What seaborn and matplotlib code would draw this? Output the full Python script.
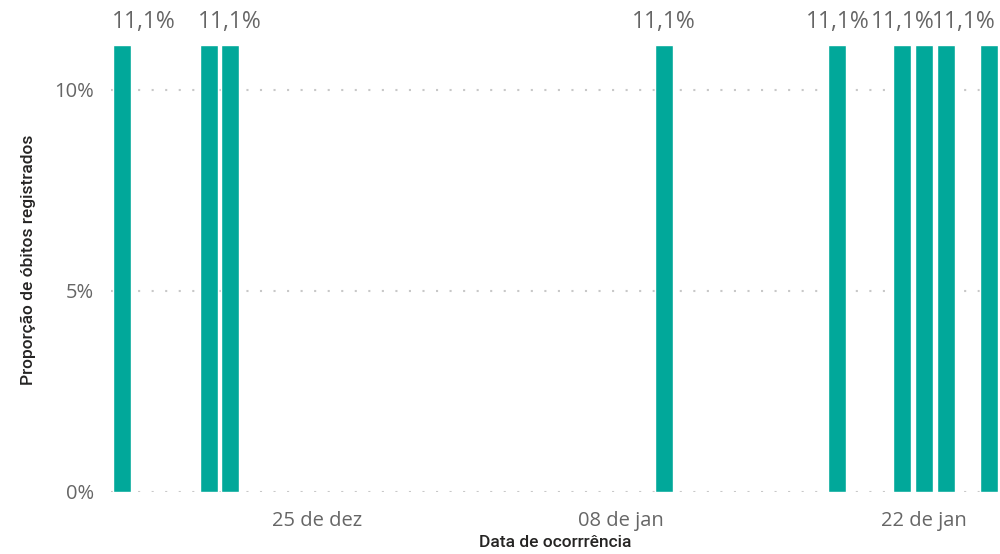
import pandas as pd
import seaborn as sns
import matplotlib.pyplot as plt
import matplotlib.dates as mdates

datas = ["2020-12-16", "2020-12-20", "2020-12-21", "2021-01-10", "2021-01-18",
         "2021-01-21", "2021-01-22", "2021-01-23", "2021-01-25"]
proporcao = [0.111, 0.111, 0.111, 0.111, 0.111, 0.111, 0.111, 0.111, 0.111]
# Power BI hides overlapping labels, only these get one
rotulos = ["11,1%", None, "11,1%", "11,1%", "11,1%", "11,1%", None, None, "11,1%"]

tick_datas = ["2020-12-25", "2021-01-08", "2021-01-22"]
tick_labels = ["25 de dez", "08 de jan", "22 de jan"]

df = pd.DataFrame({"data": pd.to_datetime(datas), "prop": proporcao})
df["x"] = mdates.date2num(df["data"])

sns.set_theme(style="white")
plt.rcParams["font.family"] = ["Open Sans", "DejaVu Sans"]

fig = plt.figure(figsize=(10, 5.54), dpi=100)
ax = fig.add_axes([0.111, 0.112, 0.889, 0.807])

sns.barplot(data=df, x="x", y="prop", native_scale=True, width=0.83,
            color="#01A89A", saturation=1, ax=ax, zorder=3)

x0 = df["x"].min() - 0.5
x1 = df["x"].max() + 0.5
ax.set_xlim(x0, x1)
ax.set_ylim(0, 0.1111)

ax.set_yticks([0, 0.05, 0.10])
ax.set_yticklabels(["0%", "5%", "10%"])
ax.set_xticks(mdates.date2num(pd.to_datetime(tick_datas)))
ax.set_xticklabels(tick_labels)
ax.tick_params(axis="both", labelsize=14.5, colors="#666666", length=0)
ax.tick_params(axis="x", pad=14)
ax.tick_params(axis="y", pad=12)

ax.grid(axis="y", color="#C8C8C8", linestyle=(0, (1, 5.5)), linewidth=1.5)
for s in ax.spines.values():
    s.set_visible(False)

for i, (x, v, t) in enumerate(zip(df["x"], df["prop"], rotulos)):
    if t is None:
        continue
    xx, ha = x, "center"
    if i == 0:
        xx, ha = x0 + 0.05, "left"
    elif i == len(df) - 1:
        xx, ha = x1 - 0.2, "right"
    ax.annotate(t, (xx, v), xytext=(0, 8), textcoords="offset points",
                ha=ha, va="bottom", fontsize=16.5, color="#666666",
                annotation_clip=False)

ax.set_xlabel("Data de ocorrrência", fontsize=12.5, color="#252423",
              family=["Roboto", "DejaVu Sans"], fontweight="medium")
ax.set_ylabel("Proporção de óbitos registrados", fontsize=12.5, color="#252423",
              family=["Roboto", "DejaVu Sans"], fontweight="medium")
ax.xaxis.label.set_verticalalignment("center")
ax.xaxis.set_label_coords(0.5, -0.114)
ax.yaxis.label.set_verticalalignment("center")
ax.yaxis.set_label_coords(-0.093, 0.52)

plt.savefig("out.png", dpi=100)
